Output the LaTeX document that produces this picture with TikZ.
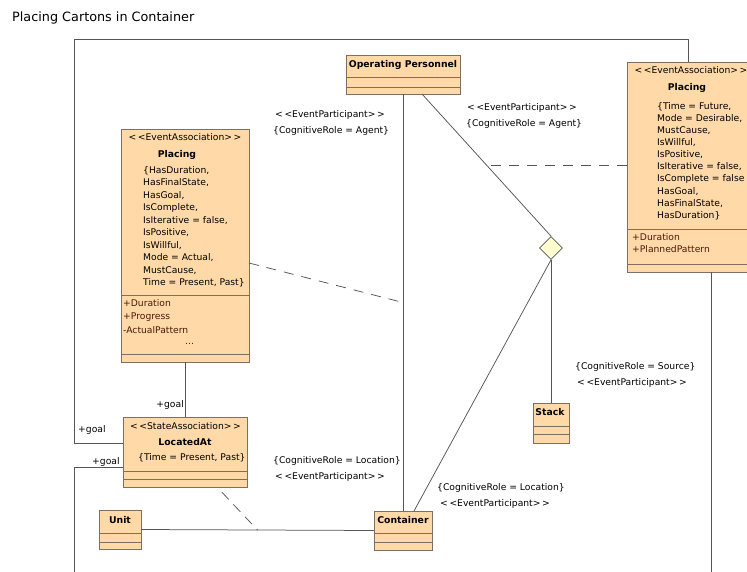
\documentclass[tikz,border=0pt]{standalone}
\usepackage{fontspec}
\setmainfont{DejaVu Sans}
\usetikzlibrary{calc,shapes.geometric}

\definecolor{boxfill}{RGB}{255,218,168}
\definecolor{boxline}{RGB}{128,110,96}
\definecolor{wirecol}{RGB}{85,85,85}
\definecolor{opcolor}{RGB}{75,25,10}
\definecolor{diafill}{RGB}{255,255,208}

% stereotype brackets, kerned so no guillemet ligature is formed
\newcommand\stereotype[1]{<\kern1.6pt<#1>\kern1.6pt>}
% two compartment lines inside a class box, given as offsets from its top
\newcommand\umldividers[3]{%
  \draw[divider] ($(#1.north west)+(0,#2)$) -- ($(#1.north east)+(0,#2)$);
  \draw[divider] ($(#1.north west)+(0,#3)$) -- ($(#1.north east)+(0,#3)$);
}

\tikzset{
  umlbox/.style={draw=boxline, fill=boxfill, line width=0.95pt, rectangle,
    inner sep=0pt, outer sep=0pt, anchor=north west},
  divider/.style={draw=boxline, line width=0.95pt},
  wire/.style={draw=wirecol, line width=0.75pt},
  dashedlink/.style={wire, dash pattern=on 10pt off 8pt},
  txt/.style={inner sep=0pt, font=\fontsize{9.2}{11}\selectfont,
    text height=6.8pt, text depth=2pt},
  lbl/.style={txt, anchor=west},
  attr/.style={txt, anchor=west},
  oper/.style={txt, anchor=west, text=opcolor},
  bname/.style={txt, font=\fontsize{9.3}{11}\selectfont\bfseries},
  stereo/.style={txt},
  titletext/.style={inner sep=0pt, font=\fontsize{12.8}{15}\selectfont, anchor=base west},
}

\begin{document}
\begin{tikzpicture}[x=1pt,y=-1pt]
\useasboundingbox (0,0) rectangle (747,572);
\clip (0,0) rectangle (747,572);

\node[titletext] (title) at (12,22) {Placing Cartons in Container};

% ---------- class boxes ----------
\node[umlbox, minimum width=128pt, minimum height=233pt] (lp) at (121,129) {};
\umldividers{lp}{166}{225}
\node[umlbox, minimum width=128pt, minimum height=210pt] (rp) at (627,62) {};
\umldividers{rp}{167}{202}
\node[umlbox, minimum width=114pt, minimum height=39pt] (op) at (346,55) {};
\umldividers{op}{22}{32}
\node[umlbox, minimum width=124pt, minimum height=70pt] (la) at (123,417) {};
\umldividers{la}{54}{62}
\node[umlbox, minimum width=42pt, minimum height=39pt] (unit) at (99,510) {};
\umldividers{unit}{23}{32}
\node[umlbox, minimum width=58pt, minimum height=39pt] (cont) at (374,511) {};
\umldividers{cont}{22}{31}
\node[umlbox, minimum width=36pt, minimum height=40pt] (stack) at (533,403) {};
\umldividers{stack}{23}{31}

\node[diamond, draw=wirecol, fill=diafill, line width=0.75pt, inner sep=0pt,
  minimum width=23pt, minimum height=23pt] (dia) at (551,248) {};

% ---------- box contents ----------
\node[stereo] (lpst) at (185,138) {\stereotype{EventAssociation}};
\node[bname] (lpname) at (177,155) {Placing};
\foreach \t [count=\i from 0] in {{\{HasDuration,}, {HasFinalState,}, {HasGoal,},
    {IsComplete,}, {IsIterative = false,}, {IsPositive,}, {IsWillful,},
    {Mode = Actual,}, {MustCause,}, {Time = Present, Past\}}}
  \node[attr] (lpa\i) at (143,{171+12.5*\i}) {\t};
\node[oper] (lpo1) at (123,304) {+Duration};
\node[oper] (lpo2) at (123,317.5) {+Progress};
\node[oper] (lpo3) at (123,331) {-ActualPattern};
\node[oper] (lpo4) at (185,342) {...};

\node[stereo] (rpst) at (691,71) {\stereotype{EventAssociation}};
\node[bname] (rpname) at (687,88) {Placing};
\foreach \t [count=\i from 0] in {{\{Time = Future,}, {Mode = Desirable,},
    {MustCause,}, {IsWillful,}, {IsPositive,}, {IsIterative = false,},
    {IsComplete = false}, {HasGoal,}, {HasFinalState,}, {HasDuration\}}}
  \node[attr] (rpa\i) at (657,{107+12.1*\i}) {\t};
\node[oper] (rpo1) at (632,238) {+Duration};
\node[oper] (rpo2) at (632,250) {+PlannedPattern};

\node[bname] (opname) at (403,65) {Operating Personnel};

\node[stereo] (last) at (185.5,427) {\stereotype{StateAssociation}};
\node[bname] (laname) at (185,443) {LocatedAt};
\node[attr] (laa) at (138,458) {\{Time = Present, Past\}};

\node[bname] (unitname) at (120,521) {Unit};
\node[bname] (contname) at (403,521) {Container};
\node[bname] (stackname) at (550,413) {Stack};

% ---------- connectors ----------
\coordinate (opd) at ($(op.south)+(19,0)$);
\draw[wire] (op.south) -- (cont.north);
\draw[wire] (opd) -- (dia.north);
\draw[wire] (dia.south) -- ($(cont.north)+(11,0)$);
\draw[wire] (dia.south) -- (stack.north);
\draw[wire] (lp.south) -- (la.north);
\draw[wire] (unit.east) -- (cont.west);

\coordinate (tl) at (74,39);
\coordinate (bl) at (74,572);
\coordinate (br) at (711,572);
\draw[wire] ($(rp.north west)+(61,0)$) |- (tl) |- ($(la.north west)+(0,26)$);
\draw[wire] ($(la.north west)+(0,50)$) -| (bl);
\draw[wire] ($(rp.north west)+(84,210)$) -- (br);

% association-class links
\coordinate (j1) at ($(op.south)!0.5!(cont.north)$);
\coordinate (j2) at ($(opd)!0.503!(dia.north)$);
\coordinate (j3) at ($(unit.east)!0.5!(cont.west)$);
\draw[dashedlink] ($(lp.north east)+(0,134)$) -- (j1);
\draw[dashedlink] (rp.west |- j2) -- (j2);
\draw[dashedlink, dash pattern=on 10pt off 7pt, dash phase=10pt] ($(la.south)+(32,0)$) -- (j3);

% ---------- role labels ----------
\node[lbl] (r1a) at (275,115) {\stereotype{EventParticipant}};
\node[lbl] (r1b) at (273,131) {\{CognitiveRole = Agent\}};
\node[lbl] (r2a) at (467,108) {\stereotype{EventParticipant}};
\node[lbl] (r2b) at (466,124) {\{CognitiveRole = Agent\}};
\node[lbl] (r3a) at (273,461) {\{CognitiveRole = Location\}};
\node[lbl] (r3b) at (275,477) {\stereotype{EventParticipant}};
\node[lbl] (r4a) at (437,488) {\{CognitiveRole = Location\}};
\node[lbl] (r4b) at (440,504) {\stereotype{EventParticipant}};
\node[lbl] (r5a) at (575,367) {\{CognitiveRole = Source\}};
\node[lbl] (r5b) at (577,383) {\stereotype{EventParticipant}};

\node[lbl, anchor=east] (g1) at (184,405) {+goal};
\node[lbl] (g2) at (78,430) {+goal};
\node[lbl] (g3) at (92,462) {+goal};
\end{tikzpicture}
\end{document}
